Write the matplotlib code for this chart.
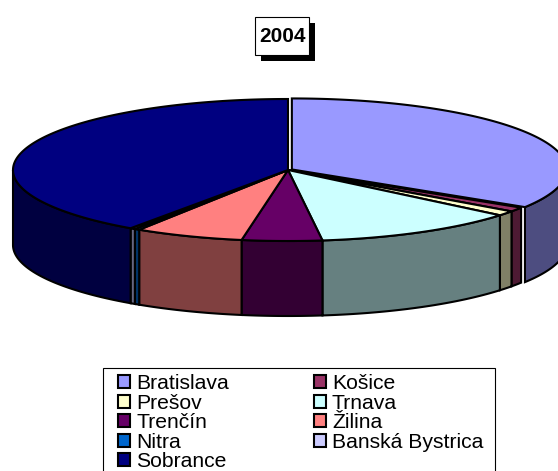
import numpy as np
import matplotlib.pyplot as plt
from matplotlib.patches import Polygon, Rectangle, Patch
from matplotlib.colors import to_rgb

regions = ['Bratislava', 'Košice', 'Prešov', 'Trnava', 'Trenčín', 'Žilina',
           'Nitra', 'Banská Bystrica', 'Sobrance']
share = [33.9, 1.0, 1.1, 12.0, 4.7, 6.4, 0.3, 0.3, 40.3]
colors = ['#9999FF', '#993366', '#FFFFCC', '#CCFFFF', '#660066', '#FF8080',
          '#0066CC', '#CCCCFF', '#000080']
explode = [0.016, 0, 0, 0, 0, 0, 0, 0, 0]
title = '2004'

plt.rcParams['font.family'] = ['Liberation Sans', 'DejaVu Sans']

fig = plt.figure(figsize=(5.58, 4.71), dpi=100)
ax = fig.add_axes([0, 0, 1, 1])
ax.set_xlim(0, 558)
ax.set_ylim(471, 0)
ax.axis('off')

# pie geometry in pixels: centre, half axes of the top ellipse, wall height
cx, cy, rx, ry, depth = 288, 170, 275, 71, 75


def rim(t, ox, oy, dz=0):
    return np.column_stack([cx + ox + rx * np.sin(t), cy + oy - ry * np.cos(t) + dz])


vals = np.array(share)
edges = np.concatenate([[0], np.cumsum(vals) / vals.sum() * 2 * np.pi])

tops = []
for i in range(len(vals)):
    t1, t2 = edges[i], edges[i + 1]
    mid = (t1 + t2) / 2
    ox = rx * explode[i] * np.sin(mid)
    oy = -ry * explode[i] * np.cos(mid)
    t = np.linspace(t1, t2, 200)
    top = np.vstack([[cx + ox, cy + oy], rim(t, ox, oy)])
    tops.append(Polygon(top, closed=True, fc=colors[i], ec='black', lw=1.5,
                        joinstyle='miter'))
    # front wall (only the part facing the viewer)
    a, b = max(t1, np.pi / 2), min(t2, 1.5 * np.pi)
    if a < b:
        tw = np.linspace(a, b, 200)
        side = np.vstack([rim(tw, ox, oy), rim(tw[::-1], ox, oy, depth)])
        dark = tuple(c * 0.5 for c in to_rgb(colors[i]))
        ax.add_patch(Polygon(side, closed=True, fc=dark, ec='black', lw=1.5))
for p in tops:
    ax.add_patch(p)

# title box with shadow
ax.add_patch(Rectangle((261, 23), 54, 38, fc='black', ec='none'))
ax.add_patch(Rectangle((255, 17), 54, 38, fc='white', ec='black', lw=0.8))
ax.text(282, 36.5, title, ha='center', va='center', fontsize=15, fontweight='bold')

# legend frame (runs off the bottom edge like in the original)
ax.add_patch(Rectangle((103, 368), 392, 120, fc='white', ec='black', lw=0.8))

# legend, row-wise order as in the original
handles = [Patch(fc=c, ec='black', lw=1.5) for c in colors]
order = [0, 2, 4, 6, 8, 1, 3, 5, 7]
leg = fig.legend([handles[k] for k in order], [regions[k] for k in order],
                 ncol=2, loc='upper left',
                 bbox_to_anchor=(118 / 558, 1 - 374 / 471),
                 frameon=False, fontsize=15.2,
                 handlelength=0.57, handleheight=0.57, handletextpad=0.3,
                 columnspacing=4.0, labelspacing=0.025, borderpad=0,
                 borderaxespad=0)

fig.savefig('out.png', dpi=100)
